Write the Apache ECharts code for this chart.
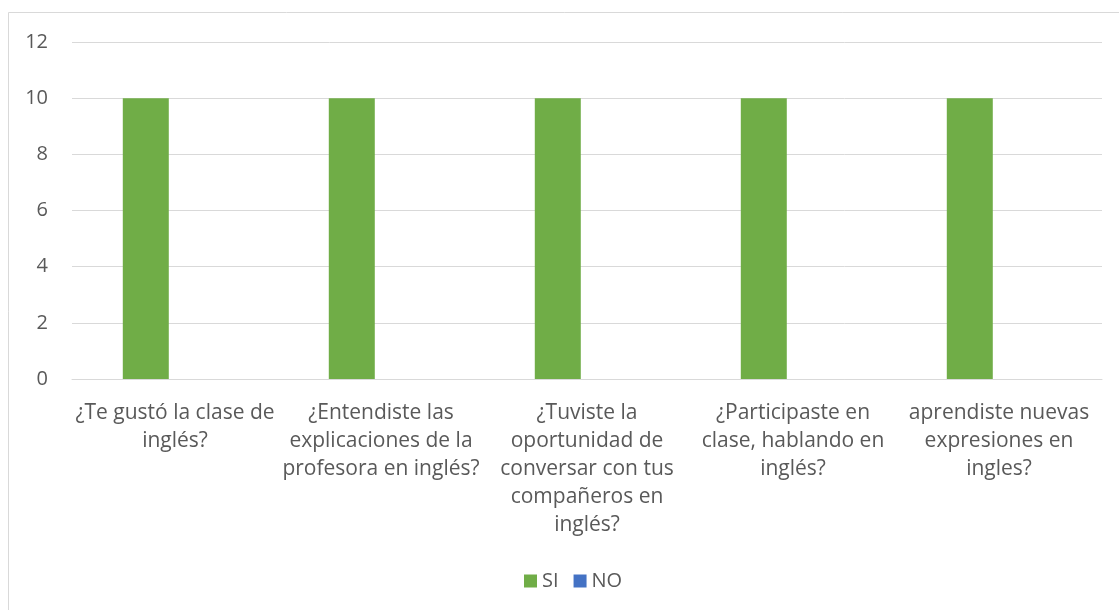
<!DOCTYPE html>
<html>
<head>
<meta charset="utf-8">
<script src="https://cdn.jsdelivr.net/npm/echarts@6/dist/echarts.min.js"></script>
<style>
  html, body { margin: 0; padding: 0; background: #fff; }
  #chart { width: 1119px; height: 610px; }
</style>
</head>
<body>
<div id="chart"></div>
<script>
// Survey questions (line breaks as shown under each group)
const categories = [
  '¿Te gustó la clase de\ninglés?',
  '¿Entendiste las\nexplicaciones de la\nprofesora en inglés?',
  '¿Tuviste la\noportunidad de\nconversar con tus\ncompañeros en\ninglés?',
  '¿Participaste en\nclase, hablando en\ninglés?',
  'aprendiste nuevas\nexpresiones en\ningles?'
];
const siValues = [10, 10, 10, 10, 10];
const noValues = [0, 0, 0, 0, 0];
const yTicks = { min: 0, max: 12, interval: 2 };

const textColor = '#595959';
const fontFamily = 'Open Sans';

const chart = echarts.init(document.getElementById('chart'), null, { renderer: 'canvas' });
chart.setOption({
  animation: false,
  backgroundColor: '#fff',
  textStyle: { fontFamily: fontFamily, color: textColor },
  graphic: [{
    type: 'rect',
    shape: { x: 8.5, y: 12.5, width: 1120, height: 620 },
    style: { fill: 'none', stroke: '#d9d9d9', lineWidth: 1 },
    silent: true
  }],
  grid: { left: 72, right: 17, top: 42, bottom: 231, containLabel: false },
  legend: {
    data: ['SI', 'NO'],
    top: 566,
    left: 519,
    icon: 'rect',
    itemWidth: 13,
    itemHeight: 13,
    itemGap: 15,
    textStyle: { fontFamily: fontFamily, fontSize: 20, color: textColor }
  },
  xAxis: {
    type: 'category',
    data: categories,
    axisTick: { show: false },
    axisLine: { show: true, lineStyle: { color: '#d9d9d9', width: 1 } },
    axisLabel: {
      interval: 0,
      margin: 20,
      fontFamily: fontFamily,
      fontSize: 21,
      lineHeight: 28,
      color: textColor,
      align: 'center'
    }
  },
  yAxis: {
    type: 'value',
    min: yTicks.min,
    max: yTicks.max,
    interval: yTicks.interval,
    axisLine: { show: false },
    axisTick: { show: false },
    splitLine: { lineStyle: { color: '#d9d9d9', width: 1 } },
    axisLabel: { fontFamily: fontFamily, fontSize: 20, color: textColor, margin: 24 }
  },
  series: [
    {
      name: 'SI',
      type: 'bar',
      data: siValues,
      barWidth: 46,
      barGap: '27%',
      itemStyle: { color: '#70AD47' }
    },
    {
      name: 'NO',
      type: 'bar',
      data: noValues,
      barWidth: 46,
      itemStyle: { color: '#4472C4' }
    }
  ]
});
</script>
</body>
</html>
